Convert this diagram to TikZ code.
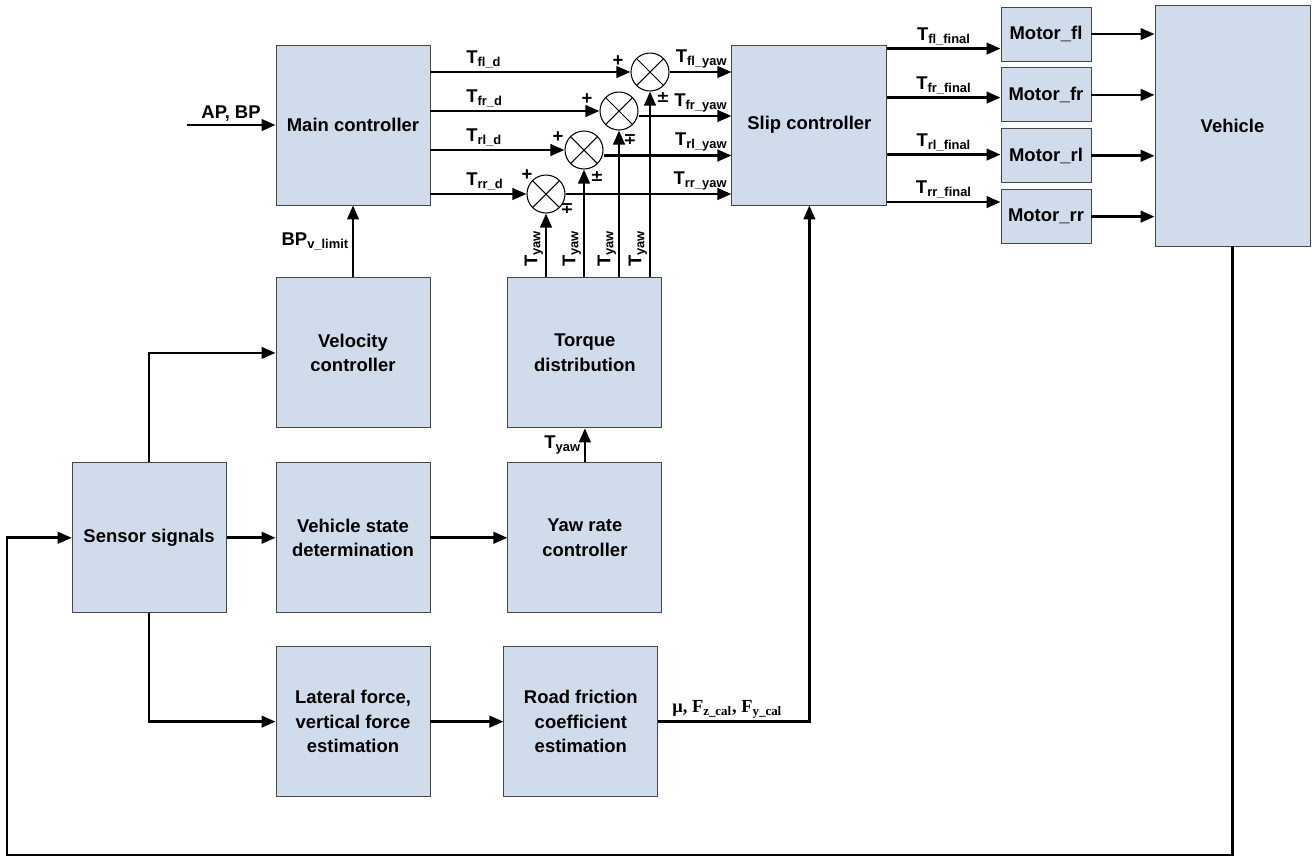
\documentclass[tikz,border=0pt]{standalone}
\usepackage{fontspec}
\setmainfont{Liberation Sans}
\newfontfamily\mufont{Liberation Serif}
\newfontfamily\signfont{DejaVu Sans}
\usepackage{tikz}
\usetikzlibrary{arrows.meta,positioning,calc}
\definecolor{boxfill}{RGB}{208,219,236}
\definecolor{boxline}{RGB}{70,70,70}

\begin{document}
\begin{tikzpicture}[
    block/.style={rectangle, draw=boxline, fill=boxfill, line width=0.5pt, minimum width=3.08cm, minimum height=3.0cm, align=center, inner sep=2pt, font=\fontsize{10.5}{14}\selectfont\bfseries},
    motor/.style={block, minimum width=1.8cm, minimum height=1.08cm},
    sumj/.style={circle, draw=black, line width=0.6pt, fill=white, minimum size=0.76cm, inner sep=0pt,
        path picture={\draw[line width=0.6pt] (path picture bounding box.north west) -- (path picture bounding box.south east)
            (path picture bounding box.north east) -- (path picture bounding box.south west);}},
    arrow/.style={-{Triangle[length=2.8mm,width=2.3mm]}, line width=1.5pt},
    lbl/.style={font=\fontsize{10.5}{12}\selectfont\bfseries, inner sep=1.5pt},
    mulbl/.style={font=\mufont\fontsize{10.5}{12}\selectfont\bfseries, inner sep=1.5pt},
    sgn/.style={font=\signfont\fontsize{9}{10}\selectfont\bfseries, inner sep=0pt},
]
\useasboundingbox (0,0) rectangle (26.32,-17.16);

% Controllers
\node[block, minimum height=3.2cm] (main) at (7.06,-2.5) {Main controller};
\node[block, below=1.44cm of main] (vel) {Velocity\\controller};
\node[block, below=0.68cm of vel] (vsd) {Vehicle state\\determination};
\node[block, below=0.66cm of vsd] (lat) {Lateral force,\\vertical force\\estimation};
\node[block, left=0.98cm of vsd] (sensor) {Sensor signals};
\node[block, right=1.54cm of vsd] (yaw) {Yaw rate\\controller};
\node[block, above=0.68cm of yaw] (td) {Torque\\distribution};
\node[block, right=1.46cm of lat] (road) {Road friction\\coefficient\\estimation};
\node[block, minimum width=3.1cm, minimum height=3.2cm, right=6.02cm of main] (slip) {Slip controller};

% Motors and vehicle
\node[motor] (mfl) at (20.92,-0.68) {Motor\_fl};
\node[motor, below=0.12cm of mfl] (mfr) {Motor\_fr};
\node[motor, below=0.12cm of mfr] (mrl) {Motor\_rl};
\node[motor, below=0.12cm of mrl] (mrr) {Motor\_rr};
\node[block, minimum width=3.1cm, minimum height=4.82cm] (veh) at (24.65,-2.51) {Vehicle};

% Summing junctions
\node[sumj] (sfl) at (13.0,-1.44) {};
\node[sumj] (sfr) at (12.38,-2.22) {};
\node[sumj] (srl) at (11.68,-3.0) {};
\node[sumj] (srr) at (10.92,-3.88) {};
\node[lbl, inner sep=0pt] at ([shift={(-0.64,0.22)}]sfl.center) {+};
\node[lbl, inner sep=0pt] at ([shift={(-0.64,0.24)}]sfr.center) {+};
\node[lbl, inner sep=0pt] at ([shift={(-0.52,0.26)}]srl.center) {+};
\node[lbl, inner sep=0pt] at ([shift={(-0.38,0.38)}]srr.center) {+};
\node[sgn] at ([shift={(0.26,-0.52)}]sfl.center) {±};
\node[sgn] at ([shift={(0.22,-0.58)}]sfr.center) {∓};
\node[sgn] at ([shift={(0.26,-0.54)}]srl.center) {±};
\node[sgn] at ([shift={(0.42,-0.30)}]srr.center) {∓};

% Inputs
\coordinate[left=1.78cm of main] (in);
\draw[arrow] (in) -- node[lbl, above] {AP, BP} (main);
\draw[arrow] (vel) -- node[lbl, left] {BP\textsubscript{v\_limit}} (main);

% Desired torques
\draw[arrow] (main.east |- sfl) -- node[lbl, pos=0, anchor=south west, xshift=0.64cm] {T\textsubscript{fl\_d}} (sfl);
\draw[arrow] (main.east |- sfr) -- node[lbl, pos=0, anchor=south west, xshift=0.64cm] {T\textsubscript{fr\_d}} (sfr);
\draw[arrow] (main.east |- srl) -- node[lbl, pos=0, anchor=south west, xshift=0.64cm] {T\textsubscript{rl\_d}} (srl);
\draw[arrow] (main.east |- srr) -- node[lbl, pos=0, anchor=south west, xshift=0.64cm] {T\textsubscript{rr\_d}} (srr);

% Yaw torques
\foreach \s in {sfl,sfr,srl,srr}{
  \draw[arrow] (td.north -| \s) -- (\s);
  \node[lbl, rotate=90, anchor=south] at ([yshift=0.58cm]td.north -| \s) {T\textsubscript{yaw}};
}

% Corrected torques
\draw[arrow] (sfl.east) -- (sfl.east -| slip.west) node[lbl, above left] {T\textsubscript{fl\_yaw}};
\draw[arrow] ([yshift=-0.1cm]sfr.east) -- ([yshift=-0.1cm]sfr.east -| slip.west) node[lbl, above left] {T\textsubscript{fr\_yaw}};
\draw[arrow] ([yshift=-0.11cm]srl.east) -- ([yshift=-0.11cm]srl.east -| slip.west) node[lbl, above left] {T\textsubscript{rl\_yaw}};
\draw[arrow] (srr.east) -- (srr.east -| slip.west) node[lbl, above left] {T\textsubscript{rr\_yaw}};

% Final torques
\draw[arrow] ([yshift=-0.08cm]slip.north east) -- ([yshift=-0.08cm]slip.north east -| mfl.west) node[lbl, midway, above] {T\textsubscript{fl\_final}};
\draw[arrow] ([yshift=-1.06cm]slip.north east) -- ([yshift=-1.06cm]slip.north east -| mfr.west) node[lbl, midway, above] {T\textsubscript{fr\_final}};
\draw[arrow] ([yshift=-2.2cm]slip.north east) -- ([yshift=-2.2cm]slip.north east -| mrl.west) node[lbl, midway, above] {T\textsubscript{rl\_final}};
\draw[arrow] ([yshift=-3.15cm]slip.north east) -- ([yshift=-3.15cm]slip.north east -| mrr.west) node[lbl, midway, above] {T\textsubscript{rr\_final}};
\foreach \m in {mfl,mfr,mrl,mrr}
  \draw[arrow] (\m.east) -- (\m.east -| veh.west);

% Estimation chain
\draw[arrow] (sensor) |- (vel);
\draw[arrow] (sensor) -- (vsd);
\draw[arrow] (sensor) |- (lat);
\draw[arrow] (vsd) -- (yaw);
\draw[arrow] (yaw) -- node[lbl, left] {T\textsubscript{yaw}} (td);
\draw[arrow] (lat) -- (road);
\draw[arrow] (road) -| (slip);
\node[mulbl, anchor=south west] at ([xshift=0.22cm]road.east) {μ, F\textsubscript{z\_cal}, F\textsubscript{y\_cal}};

% Feedback
\coordinate (fb) at (0.14,-17.1);
\draw[arrow] (veh) |- (fb) |- (sensor);
\end{tikzpicture}
\end{document}
